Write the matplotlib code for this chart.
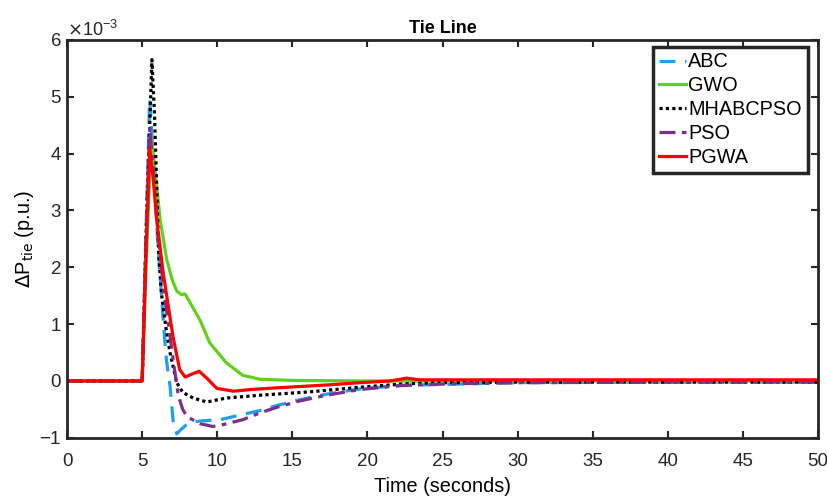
import numpy as np
import matplotlib.pyplot as plt
from matplotlib.ticker import ScalarFormatter

plt.rcParams['font.family'] = ['Liberation Sans', 'DejaVu Sans']
plt.rcParams['axes.unicode_minus'] = False

# values, in units of 1e-3 p.u.
abc_t = [0, 5.0, 5.25, 5.5, 5.75, 6.0, 6.4, 6.6, 6.86, 7.06, 7.3, 7.55, 8.0,
         8.4, 9.0, 10.2, 11.5, 12.85, 14, 15.5, 17.3, 19.5, 22.2, 25, 30,
         40, 50]
abc_v = [0, 0, 2.6, 4.95, 3.9, 2.6, 1.07, 0.4, -0.1, -0.7, -0.93, -0.86,
         -0.76, -0.72, -0.7, -0.68, -0.6, -0.52, -0.43, -0.33, -0.23, -0.14,
         -0.08, -0.06, -0.03, -0.02, -0.02]

gwo_t = [0, 5.0, 5.3, 5.6, 5.9, 6.2, 6.64, 7.0, 7.3, 7.6, 7.86, 8.1, 8.85,
         9.5, 10.6, 11.7, 12.85, 15, 20, 50]
gwo_v = [0, 0, 2.3, 4.3, 3.6, 2.83, 2.13, 1.78, 1.58, 1.52, 1.53, 1.42,
         1.07, 0.67, 0.32, 0.1, 0.03, 0.01, 0.0, 0.0]

mh_t = [0, 5.0, 5.3, 5.65, 5.82, 5.97, 6.1, 6.3, 6.6, 6.86, 7.3, 7.7, 8.4,
        9.3, 10.6, 12.85, 16.2, 19.5, 22.5, 25, 30, 50]
mh_v = [0, 0, 2.9, 5.65, 4.7, 3.4, 2.2, 1.5, 0.9, 0.49, -0.03, -0.2, -0.3,
        -0.37, -0.3, -0.25, -0.19, -0.11, -0.05, -0.03, -0.02, -0.02]

pso_t = [0, 5.0, 5.25, 5.5, 5.75, 6.0, 6.4, 6.8, 7.1, 7.4, 7.7, 8.0, 8.85,
         9.7, 10.5, 11.7, 12.85, 14, 15.5, 17.3, 19.5, 22.2, 25.5, 30, 40,
         50]
pso_v = [0, 0, 2.4, 4.47, 3.7, 2.8, 1.65, 0.9, 0.3, -0.25, -0.5, -0.63,
         -0.75, -0.8, -0.76, -0.68, -0.56, -0.46, -0.35, -0.25, -0.15, -0.08,
         -0.05, -0.03, -0.02, -0.02]

pgwa_t = [0, 5.0, 5.25, 5.5, 5.75, 5.97, 6.4, 7.06, 7.5, 7.86, 8.3, 8.8,
          9.3, 9.97, 11.1, 12.2, 14, 17.3, 19.5, 21.5, 22.6, 23.5, 30, 50]
pgwa_v = [0, 0, 2.2, 4.1, 3.5, 2.83, 1.9, 0.77, 0.2, 0.07, 0.12, 0.17,
          0.05, -0.13, -0.18, -0.15, -0.12, -0.07, -0.03, 0.0, 0.05, 0.02,
          0.02, 0.02]

fig = plt.figure(figsize=(8.28, 4.97), dpi=100)
ax = fig.add_axes([0.081, 0.119, 0.907, 0.801])

sc = 1e-3
lw = 2.3
ax.plot(abc_t, np.array(abc_v) * sc, color='#1E9FF0', lw=lw,
        ls=(0, (5, 3)), label='ABC')
ax.plot(gwo_t, np.array(gwo_v) * sc, color='#62D01C', lw=lw, label='GWO')
ax.plot(mh_t, np.array(mh_v) * sc, color='black', lw=lw, ls=(0, (1, 1)),
        label='MHABCPSO')
ax.plot(pso_t, np.array(pso_v) * sc, color='#7E2F8E', lw=lw,
        ls=(0, (5, 2, 1.5, 2)), label='PSO')
ax.plot(pgwa_t, np.array(pgwa_v) * sc, color='#FF0000', lw=lw, label='PGWA')

ax.set_xlim(0, 50)
ax.set_ylim(-1e-3, 6e-3)
ax.set_xticks(np.arange(0, 51, 5))
ax.set_yticks(np.arange(-1, 7) * 1e-3)

fmt = ScalarFormatter(useMathText=True)
fmt.set_powerlimits((-2, 2))
ax.yaxis.set_major_formatter(fmt)
ax.yaxis.get_offset_text().set_fontsize(13)
ax.yaxis.get_offset_text().set_color('#262626')

for s in ax.spines.values():
    s.set_linewidth(2)
    s.set_color('#262626')
ax.tick_params(direction='in', top=True, right=True, length=5, width=1.5,
               labelsize=13.5, colors='#262626', pad=4)
ax.tick_params(axis='x', pad=11)

ax.set_title('Tie Line', fontsize=13, fontweight='bold', pad=5)
ax.set_xlabel('Time (seconds)', fontsize=14.3, labelpad=5)
ax.set_ylabel(r'$\Delta$P$_{\mathrm{tie}}$ (p.u.)', fontsize=14.3, labelpad=2)

leg = ax.legend(loc='upper right', bbox_to_anchor=(0.986, 0.983),
                borderaxespad=0, fancybox=False, fontsize=14.3,
                handlelength=1.35, handletextpad=0.1, labelspacing=0.25,
                borderpad=0.3)
leg.get_frame().set_edgecolor('#262626')
leg.get_frame().set_linewidth(2.5)
leg.get_frame().set_alpha(1)

plt.savefig('out.png', dpi=100)
